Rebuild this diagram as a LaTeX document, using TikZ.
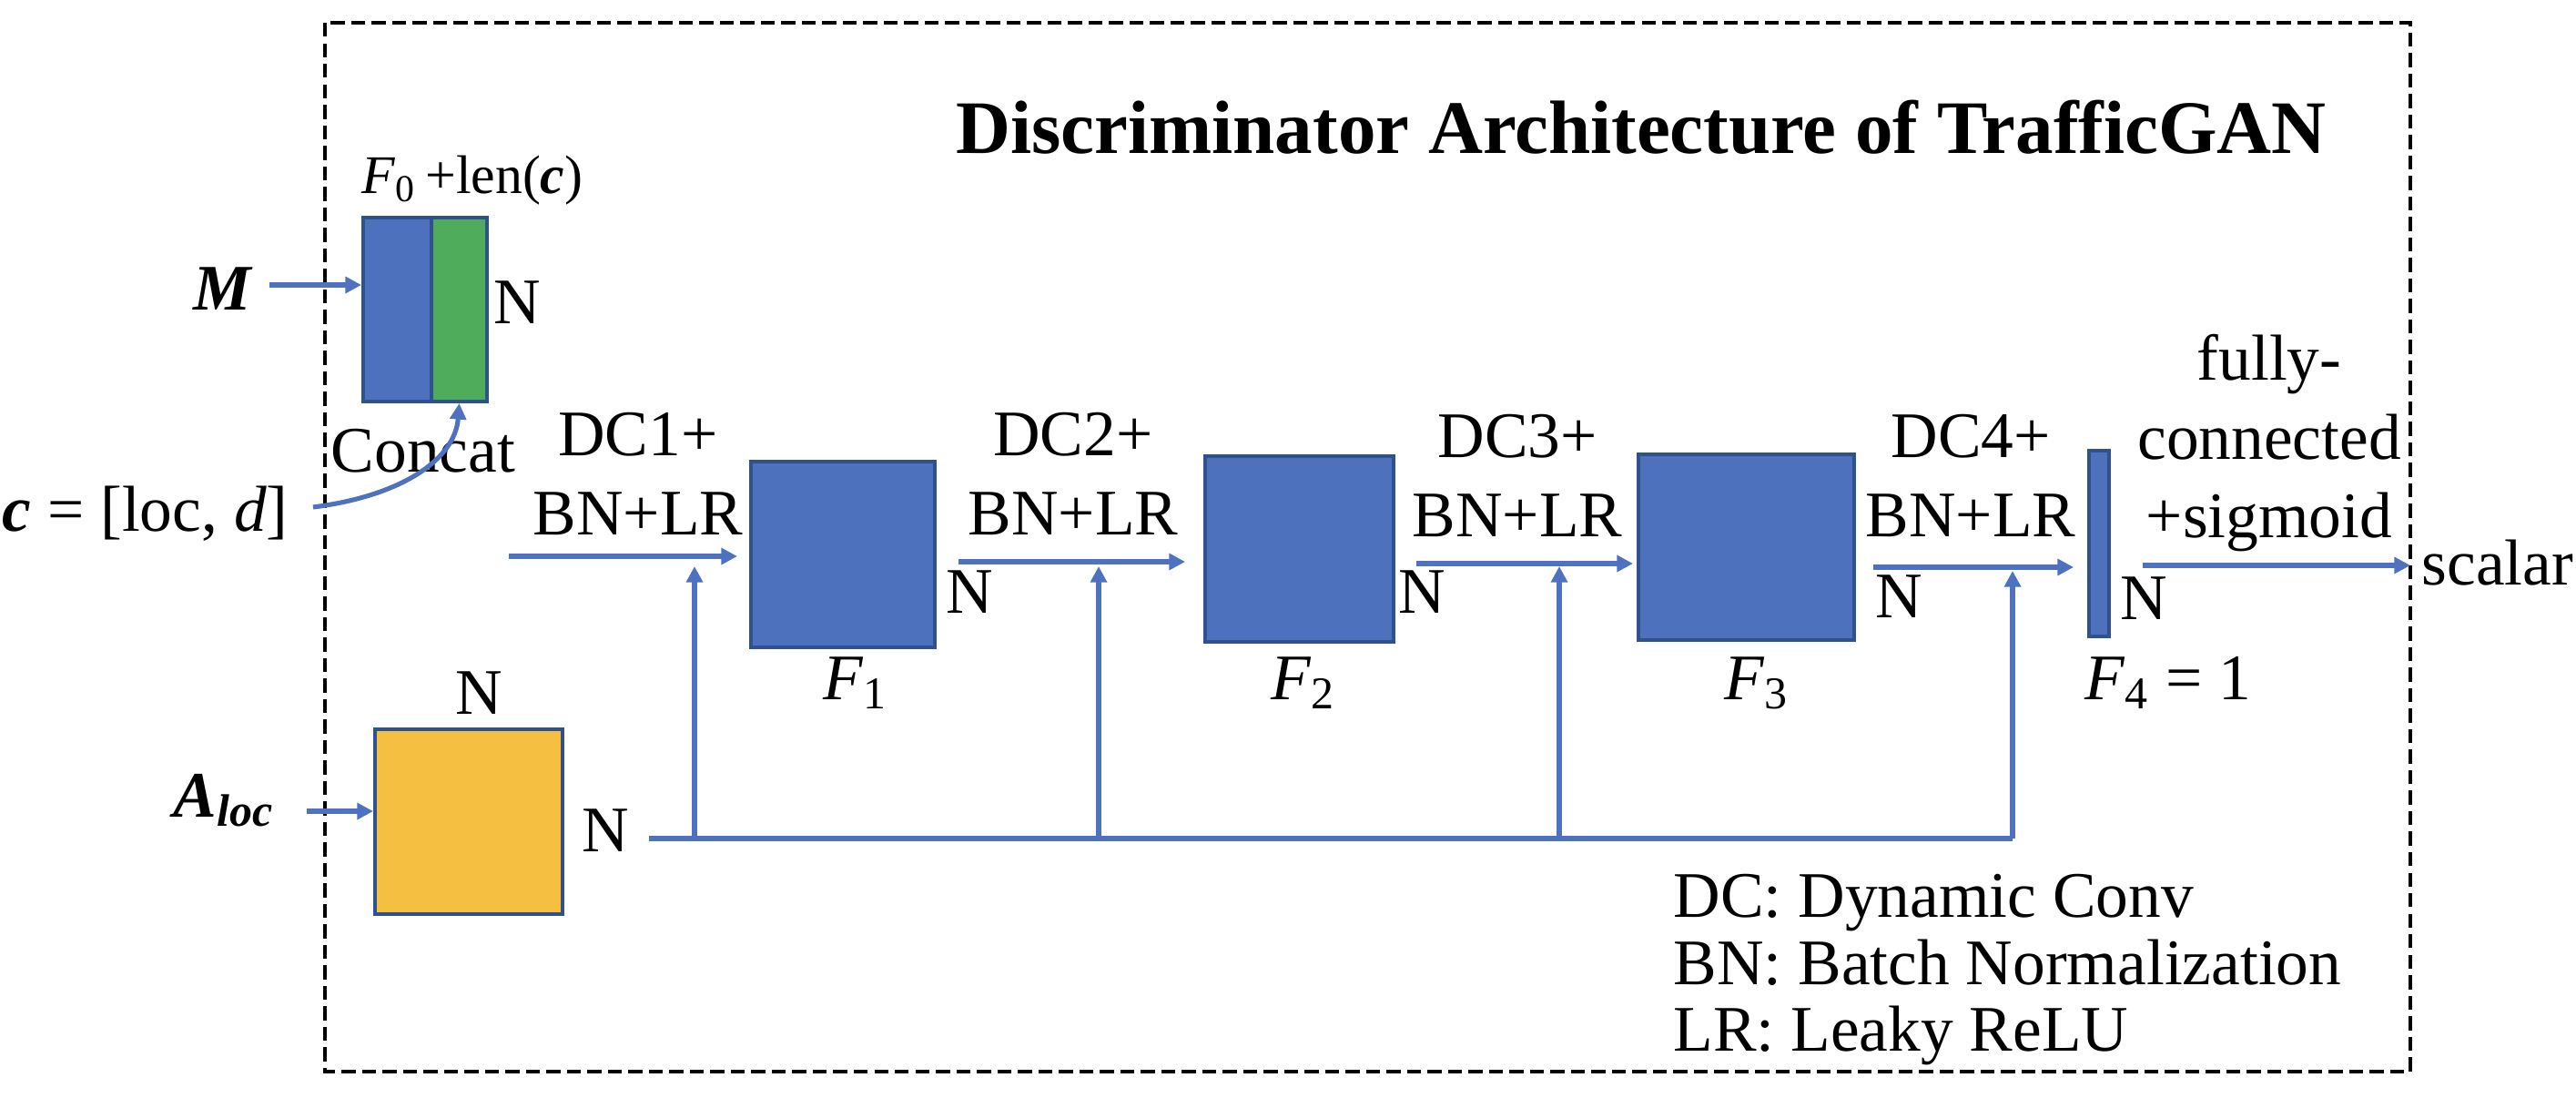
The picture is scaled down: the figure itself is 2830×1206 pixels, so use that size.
\documentclass[tikz,border=0pt]{standalone}
\usepackage{fontspec}
\setmainfont{Liberation Serif}
\usetikzlibrary{arrows.meta}

\definecolor{featblue}{HTML}{4E71BE}
\definecolor{featedge}{HTML}{2F528F}
\definecolor{catgreen}{HTML}{4EAC5B}
\definecolor{adjorange}{HTML}{F5BF41}
\definecolor{linkblue}{HTML}{4E72C0}

\newcommand{\featdim}[1]{\textit{F}\textsubscript{#1}}

\tikzset{
  fmap/.style={draw=featedge, fill=featblue, line width=1.1pt, inner sep=0pt},
  flow/.style={draw=linkblue, line width=1.45pt, -{Triangle[length=5pt,width=5pt]}},
  skip/.style={flow},
  bus/.style={draw=linkblue, line width=1.45pt},
  lbl/.style={inner sep=0pt},
  stage/.style={lbl, anchor=north, align=center, font=\fontsize{20.3pt}{24.5pt}\selectfont},
  frame/.style={line width=1.4pt, dash pattern=on 4.4pt off 2pt}
}

\begin{document}
\begin{tikzpicture}[
  x=0.01cm, y=-0.01cm,
  font=\fontsize{20.3pt}{24pt}\selectfont
]
\useasboundingbox (0,0) rectangle (2830,1206);

% Frame and title
\draw[frame] (357,25) rectangle (2648,1177);
\node[lbl, anchor=base, font=\fontsize{23.6pt}{28pt}\selectfont\bfseries] (title) at (1803,168) {Discriminator Architecture of TrafficGAN};

% Input M concatenated with c
\node[fmap, minimum width=0.75cm, minimum height=2.02cm] (catm) at (436.5,340) {};
\node[fmap, fill=catgreen, minimum width=0.61cm, minimum height=2.02cm] (catc) at (504.5,340) {};
\node[lbl, anchor=base, font=\fontsize{17pt}{20pt}\selectfont] (catdim) at (519,212) {\featdim{0}\,+len(\textbf{\textit{c}})};
\node[lbl, anchor=base] (catn) at (568,355) {N};
\node[lbl, anchor=base] (mlbl) at (245,340) {\textbf{\textit{M}}};
\node[lbl, anchor=base] (concat) at (465,518) {Concat};
\node[lbl, anchor=base west] (clbl) at (2,583) {\textbf{\textit{c}} = [loc, \textit{d}]};
\coordinate (min) at (296,313);
\coordinate (cin) at (344,557);
\draw[flow] (min) -- (min -| catm.west);
\draw[flow] (cin) .. controls (440,545) and (500,505) .. (catc.south);

% Adjacency input
\node[fmap, fill=adjorange, minimum width=2.06cm, minimum height=2.03cm] (adj) at (515,902.5) {};
\node[lbl, anchor=base] (adjtop) at (526,784) {N};
\node[lbl, anchor=base] (adjright) at (665,935) {N};
\node[lbl, anchor=base west] (albl) at (190,897) {\textbf{\textit{A}}\textsubscript{\textbf{\textit{loc}}}};
\coordinate (ain) at (337,891);
\draw[flow] (ain) -- (ain -| adj.west);

% Feature maps
\node[fmap, minimum width=2.02cm, minimum height=2.04cm] (f1) at (926,609) {};
\node[fmap, minimum width=2.07cm, minimum height=2.04cm] (f2) at (1427.5,603) {};
\node[fmap, minimum width=2.37cm, minimum height=2.04cm] (f3) at (1918.5,601) {};
\node[fmap, minimum width=0.22cm, minimum height=2.04cm] (f4) at (2306,597) {};

\node[lbl, anchor=base] (f1lbl) at (940,768) {\featdim{1}};
\node[lbl, anchor=base] (f2lbl) at (1432,768) {\featdim{2}};
\node[lbl, anchor=base] (f3lbl) at (1930,768) {\featdim{3}};
\node[lbl, anchor=base west] (f4lbl) at (2290,768) {\featdim{4} = 1};

\node[lbl, anchor=base] (f1n) at (1065,673) {N};
\node[lbl, anchor=base] (f2n) at (1562,673) {N};
\node[lbl, anchor=base] (f3n) at (2086,678) {N};
\node[lbl, anchor=base] (f4n) at (2355,680) {N};

% Layer labels
\node[stage] (dc1) at (701,453) {DC1+\\BN+LR};
\node[stage] (dc2) at (1179,453) {DC2+\\BN+LR};
\node[stage] (dc3) at (1667,455) {DC3+\\BN+LR};
\node[stage] (dc4) at (2165,455) {DC4+\\BN+LR};
\node[stage] (fc) at (2493,367) {fully-\\connected\\+sigmoid};
\node[lbl, anchor=base west] (scalar) at (2660,642) {scalar};

% Main path
\coordinate (d1in) at (559,611);
\coordinate (d2in) at (1053,617);
\coordinate (d3in) at (1556,619);
\coordinate (d4in) at (2058,623);
\coordinate (fcin) at (2354,621);
\draw[flow, shorten >=1.3mm] (d1in) -- (d1in -| f1.west);
\draw[flow, shorten >=2mm] (d2in) -- (d2in -| f2.west);
\draw[flow, shorten >=0.4mm] (d3in) -- (d3in -| f3.west);
\draw[flow, shorten >=1.5mm] (d4in) -- (d4in -| f4.west);
\draw[flow, shorten >=1.2mm] (fcin) -- (fcin -| scalar.west);

% Adjacency fed to every layer
\coordinate (bus0) at (713,921);
\coordinate (bus1) at (2211,921);
\draw[bus] (bus0) -- (bus1);
\foreach \x/\y in {763/622, 1207/622, 1713/622, 2211/627} {
  \draw[skip] (\x,921) -- (\x,\y);
}

% Legend
\node[lbl, anchor=north west, align=left, font=\fontsize{20.3pt}{20.8pt}\selectfont] (legend) at (1838,960)
  {DC: Dynamic Conv\\BN: Batch Normalization\\LR: Leaky ReLU};

\end{tikzpicture}
\end{document}
